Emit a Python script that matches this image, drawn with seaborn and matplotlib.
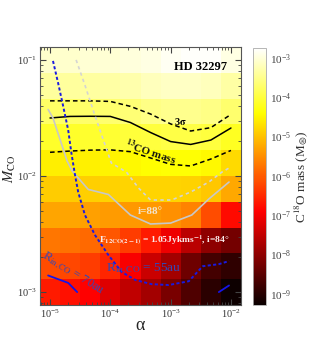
import matplotlib
matplotlib.use("Agg")
import matplotlib.pyplot as plt
import numpy as np
import pandas as pd
import seaborn as sns
from matplotlib.colors import LogNorm
from matplotlib.ticker import LogLocator, LogFormatterSciNotation, NullFormatter

# model grid (viscosity alpha vs CO input rate)
alpha = [1e-5, 2.15e-5, 4.64e-5, 1e-4, 2.15e-4, 4.64e-4, 1e-3, 2.15e-3, 4.64e-3, 1e-2]
mdot = [1e-3, 1.67e-3, 2.78e-3, 4.64e-3, 7.74e-3, 1.29e-2, 2.15e-2, 3.59e-2, 5.99e-2, 1e-1]

# log10 C18O mass (M*) per cell, first row = lowest Mdot
log_mass = [
    [-6.65, -6.75, -6.90, -7.20, -7.50, -7.80, -8.20, -8.60, -8.95, -9.25],
    [-6.15, -6.20, -6.30, -6.55, -6.95, -7.40, -7.80, -8.30, -8.70, -8.90],
    [-5.75, -5.80, -5.88, -6.05, -6.30, -6.65, -7.05, -7.55, -8.00, -8.25],
    [-5.28, -5.30, -5.35, -5.40, -5.42, -5.42, -5.48, -5.62, -6.15, -6.80],
    [-4.90, -4.90, -4.88, -4.86, -4.84, -4.82, -4.82, -4.86, -4.96, -5.25],
    [-4.58, -4.58, -4.56, -4.53, -4.48, -4.43, -4.40, -4.40, -4.48, -4.78],
    [-4.15, -4.15, -4.12, -4.10, -4.05, -4.00, -3.95, -3.95, -4.00, -4.20],
    [-3.75, -3.75, -3.72, -3.70, -3.65, -3.55, -3.50, -3.50, -3.55, -3.70],
    [-3.40, -3.40, -3.38, -3.35, -3.30, -3.20, -3.15, -3.15, -3.20, -3.35],
    [-3.10, -3.10, -3.05, -3.05, -3.00, -2.95, -2.85, -2.80, -2.80, -2.95],
]
mass_min, mass_max = 10 ** -9.28, 10 ** -2.75
cbar_ticks = [1e-9, 1e-8, 1e-7, 1e-6, 1e-5, 1e-4, 1e-3]

# 3 sigma band and 13CO mass contour
sigma_hi = [0.0444, 0.0444, 0.0444, 0.0439, 0.0398, 0.0342, 0.0281, 0.0244, 0.0261, 0.0339]
co13_mass = [0.0316, 0.0326, 0.0327, 0.0326, 0.0289, 0.0237, 0.0198, 0.0187, 0.0204, 0.0259]
sigma_lo = [0.0160, 0.0164, 0.0167, 0.0168, 0.0162, 0.0143, 0.0126, 0.0122, 0.0140, 0.0166]

# 12CO flux contours (i=88 solid, i=84 dotted)
flux88_a = [9.3e-6, 1.12e-5, 1.92e-5, 2.33e-5, 4.3e-5, 9.3e-5, 2.15e-4, 4.64e-4, 1.0e-3, 2.24e-3, 4.3e-3, 9.3e-3]
flux88_m = [0.0374, 0.0316, 0.01346, 0.01104, 0.00766, 0.00693, 0.00461, 0.00386, 0.00393, 0.00461, 0.00634, 0.00887]
flux84_a = [2.71e-5, 3.83e-5, 5.31e-5, 7.36e-5, 1.04e-4, 1.85e-4, 2.93e-4, 4.64e-4, 1.04e-3, 2.15e-3, 4.3e-3, 7.08e-3, 1.0e-2]
flux84_m = [0.1, 0.0597, 0.0356, 0.0217, 0.01294, 0.0108, 0.00789, 0.00621, 0.00621, 0.00728, 0.00887, 0.0108, 0.01197]

# inner radius contours
rin55_a = [1.12e-5, 1.36e-5, 1.65e-5, 2.0e-5, 2.26e-5, 2.58e-5, 2.93e-5, 3.79e-5, 5.56e-5,
           9.3e-5, 1.54e-4, 2.61e-4, 4.82e-4, 9.3e-4, 2.0e-3, 3.41e-3, 6.3e-3, 9.3e-3]
rin55_m = [0.098, 0.0634, 0.0401, 0.0249, 0.0158, 0.0104, 0.00728, 0.00461, 0.0031,
           0.00208, 0.00149, 0.00127, 0.00117, 0.00115, 0.00124, 0.00167, 0.00174, 0.00185]
rin70_a = [9.3e-6, 2.0e-5, 2.82e-5]
rin70_m = [1.39e-3, 1.20e-3, 1.0e-3]
rin70b_a = [6.3e-3, 9.3e-3]
rin70b_m = [1.0e-3, 1.14e-3]

sns.set_theme(context='paper', style='ticks')
plt.rcParams['font.family'] = ['serif']
plt.rcParams['font.serif'] = ['Liberation Serif', 'DejaVu Serif']
plt.rcParams['mathtext.fontset'] = 'stix'

fig = plt.figure(figsize=(3.23, 3.53), dpi=100)
pos = [40 / 323, 1 - 305 / 353, 201 / 323, 258 / 353]
ax_map = fig.add_axes(pos)
cax = fig.add_axes([253 / 323, 1 - 305 / 353, 13 / 323, 257 / 353])

mass = 10 ** np.array(log_mass)
df = pd.DataFrame(mass[::-1], index=mdot[::-1], columns=alpha)
sns.heatmap(df, ax=ax_map, cmap='hot', norm=LogNorm(mass_min, mass_max),
            cbar_ax=cax, cbar_kws={'ticks': cbar_ticks},
            xticklabels=False, yticklabels=False)
ax_map.set_axis_off()

cb = ax_map.collections[0].colorbar
cb.outline.set_linewidth(0.6)
cb.outline.set_edgecolor('#aaaaaa')
cax.yaxis.set_major_formatter(LogFormatterSciNotation())
cax.minorticks_off()
cax.tick_params(length=0, labelsize=8, labelcolor='#444444', pad=3)
cb.set_label(r'C$^{18}$O mass (M$_{\circledast}$)', fontsize=9.5, color='#333333', labelpad=1)

# overlay log axes for the contours
ax = fig.add_axes(pos, facecolor='none')
ax.set_xscale('log')
ax.set_yscale('log')
ax.set_xlim(alpha[0] / np.sqrt(alpha[1] / alpha[0]), alpha[-1] * np.sqrt(alpha[-1] / alpha[-2]))
ax.set_ylim(mdot[0] / np.sqrt(mdot[1] / mdot[0]), mdot[-1] * np.sqrt(mdot[-1] / mdot[-2]))

dash = (0, (3, 2))
sns.lineplot(x=alpha, y=sigma_hi, ax=ax, color='black', lw=1.1, linestyle=dash, sort=False, estimator=None)
sns.lineplot(x=alpha, y=co13_mass, ax=ax, color='black', lw=1.1, sort=False, estimator=None)
sns.lineplot(x=alpha, y=sigma_lo, ax=ax, color='black', lw=1.1, linestyle=dash, sort=False, estimator=None)
sns.lineplot(x=flux88_a, y=flux88_m, ax=ax, color='#c8c8c8', lw=1.2, sort=False, estimator=None)
sns.lineplot(x=flux84_a, y=flux84_m, ax=ax, color='#d4d4d4', lw=1.2, linestyle=(0, (2, 2)),
             sort=False, estimator=None)
sns.lineplot(x=rin55_a, y=rin55_m, ax=ax, color='#1a1ae0', lw=1.4, linestyle=(0, (1.6, 1.2)),
             sort=False, estimator=None)
sns.lineplot(x=rin70_a, y=rin70_m, ax=ax, color='#1515e8', lw=1.3, sort=False, estimator=None)
sns.lineplot(x=rin70b_a, y=rin70b_m, ax=ax, color='#1515e8', lw=1.3, sort=False, estimator=None)

ax.xaxis.set_major_locator(LogLocator(base=10, numticks=10))
ax.yaxis.set_major_locator(LogLocator(base=10, numticks=10))
ax.xaxis.set_minor_locator(LogLocator(base=10, subs=np.arange(2, 10), numticks=20))
ax.yaxis.set_minor_locator(LogLocator(base=10, subs=np.arange(2, 10), numticks=20))
ax.xaxis.set_minor_formatter(NullFormatter())
ax.yaxis.set_minor_formatter(NullFormatter())
ax.tick_params(which='both', direction='in', top=True, right=True, color='#444444',
               labelsize=7.5, labelcolor='#333333', pad=2)
ax.tick_params(which='major', length=4, width=0.8)
ax.tick_params(which='minor', length=2, width=0.6)
for sp in ax.spines.values():
    sp.set_color('#555555')
    sp.set_linewidth(0.8)

ax.set_xlabel('α', fontsize=13, labelpad=-2)
ax.set_ylabel(r'$\dot{M}_{\rm CO}$', fontsize=10.5, va='center')
ax.yaxis.set_label_coords(-0.158, 0.53)

bold = dict(transform=ax.transAxes, ha='center', va='center', fontweight='bold')
ax.text(0.80, 0.922, 'HD 32297', fontsize=9, color='black', **bold)
ax.text(0.70, 0.712, r'3$\mathbf{\sigma}$', fontsize=7.5, color='black', **bold)
ax.text(0.55, 0.592, r'$^{\mathbf{13}}$CO mass', fontsize=8, color='#111111', rotation=-18, **bold)
ax.text(0.55, 0.362, 'i=88°', fontsize=8, color='#f2e4cc', **bold)
ax.text(0.62, 0.252, r'F$_{\mathbf{12CO(2-1)}}$ = 1.05Jykms$^{\mathbf{-1}}$, i=84°', fontsize=6.8,
        color='#fbecec', **bold)
ax.text(0.517, 0.143, r'R$_{\rm in,CO}$ = 55au', fontsize=9.5, color='#3348b8',
        transform=ax.transAxes, ha='center', va='center')
ax.text(0.165, 0.124, r'R$_{\rm in,CO}$ = 70au', fontsize=9, color='#3348b8', rotation=-32,
        transform=ax.transAxes, ha='center', va='center')

fig.savefig('out.png', dpi=100)
